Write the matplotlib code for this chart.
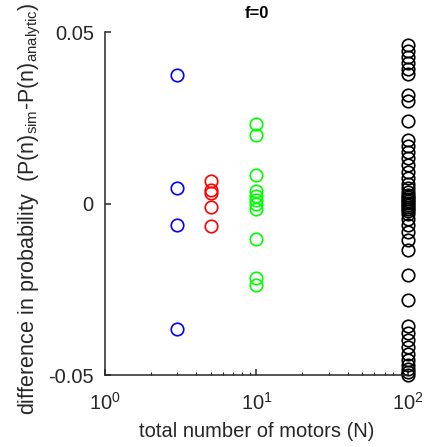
import matplotlib
matplotlib.use('Agg')
import matplotlib.pyplot as plt
import numpy as np

plt.rcParams['font.family'] = ['Liberation Sans', 'DejaVu Sans']
plt.rcParams['mathtext.fontset'] = 'custom'
plt.rcParams['mathtext.rm'] = 'Liberation Sans'
plt.rcParams['mathtext.it'] = 'Liberation Sans'

# Number of motors for each group
N_values = [3, 5, 10, 100]
group_colors = ['#0000ff', '#ff0000', '#00ff00', '#000000']

# P(n)_sim - P(n)_analytic for each group
diff_N3 = [0.0375, 0.0046, -0.0063, -0.0366]
diff_N5 = [0.0066, 0.0039, 0.0031, -0.0009, -0.0066]
diff_N10 = [0.0231, 0.0200, 0.0083, 0.0036, 0.0022, 0.0010, -0.0001,
            -0.0016, -0.0103, -0.0216, -0.0238]
diff_N100 = [0.0462, 0.0445, 0.0427, 0.0410, 0.0392, 0.0378, 0.0316, 0.0299,
             0.0241, 0.0185, 0.0168, 0.0150, 0.0133, 0.0112, 0.0092, 0.0074,
             0.0057, 0.0045, 0.0034, 0.0025, 0.0019, 0.0013, 0.0007, 0.0001,
             -0.0004, -0.0010, -0.0016, -0.0022, -0.0031, -0.0045, -0.0063,
             -0.0083, -0.0106, -0.0136, -0.0208, -0.0281, -0.0357, -0.0378,
             -0.0398, -0.0418, -0.0439, -0.0456, -0.0471, -0.0483, -0.0491,
             -0.0500]
diffs = [diff_N3, diff_N5, diff_N10, diff_N100]

fig = plt.figure(figsize=(4.25, 4.47), dpi=100)
ax = fig.add_axes([0.247, 0.161, 0.713, 0.767])

for N, d, c in zip(N_values, diffs, group_colors):
    ax.plot(np.full(len(d), N), d, 'o', mfc='none', mec=c, ms=9, mew=1.2,
            clip_on=False)

ax.set_xscale('log')
ax.set_xlim(1, 100)
ax.set_ylim(-0.05, 0.05)
ax.set_yticks([-0.05, 0, 0.05])
ax.set_yticklabels(['-0.05', '0', '0.05'])

ax.spines['top'].set_visible(False)
ax.spines['right'].set_visible(False)
for s in ['left', 'bottom']:
    ax.spines[s].set_linewidth(1.1)
    ax.spines[s].set_color('#262626')
ax.tick_params(which='both', direction='in', colors='#262626', labelsize=14.5)
ax.tick_params(which='major', length=4, width=1.1)
ax.tick_params(axis='y', pad=8)
ax.tick_params(axis='x', pad=12)
ax.tick_params(which='minor', length=2.5, width=0.8)

ax.set_xlabel('total number of motors (N)', fontsize=14.5, color='#262626',
              labelpad=6)
ax.set_ylabel(r'difference in probability  (P(n)$_{\mathrm{sim}}$-P(n)$_{\mathrm{analytic}}$)',
              fontsize=15.5, color='#262626')
ax.yaxis.set_label_coords(-0.205, 0.485)
ax.set_title('f=0', fontsize=12, fontweight='bold', pad=10)

fig.savefig('out.png', dpi=100)
